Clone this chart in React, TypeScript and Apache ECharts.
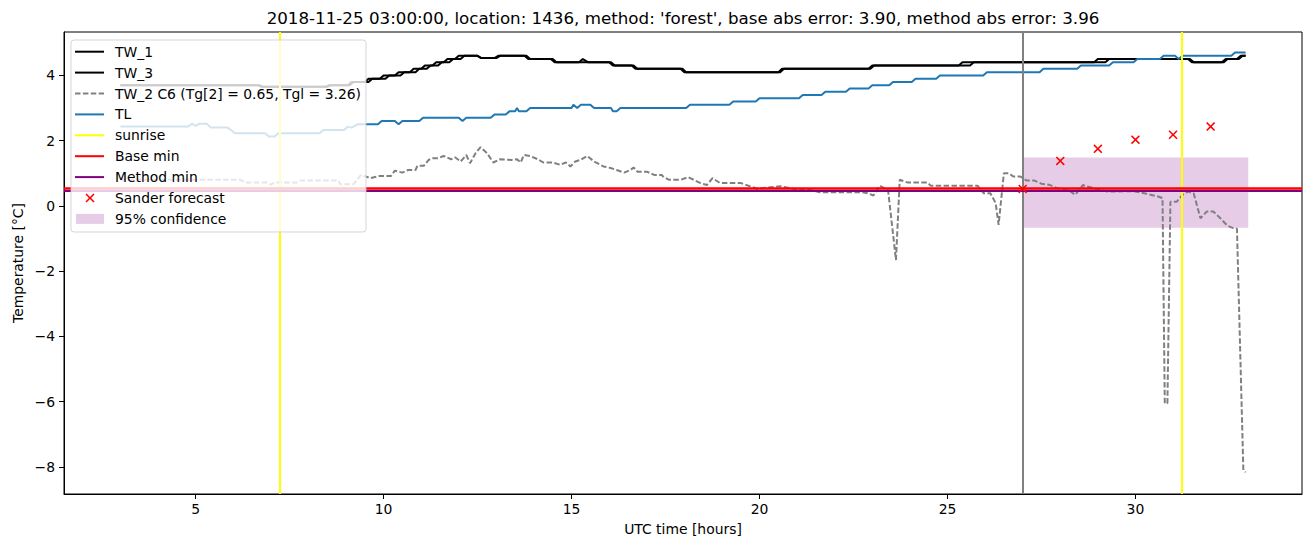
import React, { useEffect, useRef } from "react";
import * as echarts from "echarts";

const TITLE =
  "2018-11-25 03:00:00, location: 1436, method: 'forest', base abs error: 3.90, method abs error: 3.96";
const X_LABEL = "UTC time [hours]";
const Y_LABEL = "Temperature [°C]";
const X_TICKS = [5, 10, 15, 20, 25, 30];
const Y_TICKS = [-8, -6, -4, -2, 0, 2, 4];

const TW_1: number[][] = [
  [3.0, 3.7], [6.65, 3.7], [6.75, 3.65], [8.45, 3.65], [8.55, 3.7], [9.05, 3.7], [9.15, 3.8], [9.5, 3.8],
  [9.6, 3.9], [9.9, 3.9], [10.0, 4.0], [10.3, 4.0], [10.4, 4.1], [10.7, 4.1], [10.8, 4.2], [11.0, 4.2],
  [11.1, 4.3], [11.3, 4.3], [11.4, 4.4], [11.6, 4.4], [11.7, 4.5], [11.9, 4.5], [12.0, 4.6], [12.5, 4.6],
  [12.6, 4.53], [12.95, 4.53], [13.05, 4.6], [13.75, 4.6], [13.85, 4.5], [14.5, 4.5], [14.6, 4.4], [15.2, 4.4],
  [15.3, 4.5], [15.45, 4.4], [16.0, 4.4], [16.1, 4.3], [16.6, 4.3], [16.7, 4.2], [17.9, 4.2], [18.0, 4.1],
  [20.5, 4.1], [20.6, 4.2], [22.9, 4.2], [23.0, 4.3], [25.3, 4.3], [25.4, 4.4], [28.9, 4.4], [29.0, 4.5],
  [31.4, 4.5], [31.5, 4.4], [32.3, 4.4], [32.4, 4.5], [32.7, 4.5], [32.8, 4.6], [32.93, 4.6],
];

const TW_3: number[][] = [
  [3.0, 3.7], [6.7, 3.7], [6.8, 3.65], [8.5, 3.65], [8.6, 3.7], [9.1, 3.7], [9.2, 3.8], [9.6, 3.8],
  [9.7, 3.9], [10.05, 3.9], [10.15, 4.0], [10.45, 4.0], [10.55, 4.1], [10.85, 4.1], [10.95, 4.2], [11.15, 4.2],
  [11.25, 4.3], [11.45, 4.3], [11.55, 4.4], [11.75, 4.4], [11.85, 4.5], [12.05, 4.5], [12.15, 4.6], [12.5, 4.6],
  [12.6, 4.53], [13.0, 4.53], [13.1, 4.6], [13.8, 4.6], [13.9, 4.5], [14.45, 4.5], [14.55, 4.4], [16.05, 4.4],
  [16.15, 4.3], [16.65, 4.3], [16.75, 4.2], [17.95, 4.2], [18.05, 4.1], [20.55, 4.1], [20.65, 4.2], [22.95, 4.2],
  [23.05, 4.3], [25.6, 4.3], [25.7, 4.4], [29.2, 4.4], [29.3, 4.5], [31.45, 4.5], [31.55, 4.4], [32.35, 4.4],
  [32.45, 4.5], [32.75, 4.5], [32.85, 4.6], [32.93, 4.6],
];

const TW_2: number[][] = [
  [3.0, 0.8], [4.0, 0.8], [5.0, 0.8], [6.2, 0.8], [6.3, 0.72], [6.9, 0.72], [7.0, 0.65], [7.1, 0.72],
  [7.7, 0.72], [7.8, 0.78], [8.8, 0.78], [8.85, 0.66], [9.2, 0.66], [9.4, 0.95], [9.65, 0.85], [9.9, 0.92],
  [10.2, 0.92], [10.3, 1.08], [10.5, 1.02], [10.65, 1.1], [10.85, 1.1], [10.9, 1.23], [11.07, 1.23], [11.2, 1.41],
  [11.3, 1.46], [11.45, 1.46], [11.6, 1.53], [11.8, 1.43], [11.9, 1.49], [12.05, 1.36], [12.2, 1.56], [12.3, 1.31],
  [12.45, 1.62], [12.58, 1.8], [12.75, 1.62], [12.92, 1.33], [13.1, 1.43], [13.4, 1.41], [13.55, 1.43], [13.65, 1.33],
  [13.73, 1.56], [13.9, 1.53], [14.1, 1.43], [14.25, 1.33], [14.5, 1.33], [14.7, 1.26], [14.85, 1.33], [14.97, 1.21],
  [15.1, 1.36], [15.24, 1.41], [15.42, 1.53], [15.6, 1.36], [15.85, 1.21], [16.04, 1.16], [16.2, 1.1], [16.4, 1.02],
  [16.57, 1.1], [16.65, 1.18], [16.75, 1.05], [17.0, 1.05], [17.2, 0.95], [17.4, 0.95], [17.45, 0.88], [17.6, 0.8],
  [17.9, 0.8], [18.1, 0.88], [18.25, 0.8], [18.43, 0.7], [18.6, 0.64], [18.75, 0.85], [18.95, 0.7], [19.5, 0.7],
  [19.95, 0.52], [20.1, 0.55], [20.55, 0.6], [21.0, 0.5], [21.3, 0.5], [21.6, 0.42], [22.1, 0.42], [22.75, 0.42],
  [22.9, 0.38], [23.03, 0.32], [23.2, 0.62], [23.42, 0.48], [23.63, -1.66], [23.73, 0.8], [23.93, 0.72], [24.47, 0.72],
  [24.55, 0.62], [25.8, 0.62], [25.96, 0.39], [26.14, 0.39], [26.28, 0.09], [26.36, -0.58], [26.5, 1.0], [26.63, 1.0],
  [26.75, 0.9], [26.94, 0.9], [27.1, 0.78], [27.3, 0.78], [27.5, 0.68], [27.7, 0.65], [27.9, 0.55], [28.2, 0.5],
  [28.4, 0.34], [28.6, 0.64], [28.7, 0.6], [29.25, 0.44], [29.95, 0.45], [30.3, 0.37], [30.6, 0.29], [30.72, 0.24],
  [30.78, -6.05], [30.85, -6.05], [30.93, 0.13], [31.1, 0.13], [31.25, 0.34], [31.4, 0.44], [31.55, 0.38], [31.73, -0.38],
  [31.9, -0.17], [32.07, -0.17], [32.26, -0.38], [32.45, -0.61], [32.6, -0.68], [32.7, -0.7], [32.87, -8.1], [32.93, -8.16],
];

const TL: number[][] = [
  [3.0, 2.43], [4.8, 2.43], [4.9, 2.52], [5.0, 2.45], [5.1, 2.52], [5.3, 2.52], [5.4, 2.4], [5.85, 2.4],
  [6.05, 2.23], [6.85, 2.23], [6.95, 2.13], [7.1, 2.13], [7.2, 2.23], [8.3, 2.23], [8.4, 2.33], [8.95, 2.33],
  [9.05, 2.43], [9.15, 2.4], [9.3, 2.5], [9.85, 2.5], [9.95, 2.6], [10.3, 2.6], [10.4, 2.5], [10.5, 2.6],
  [10.95, 2.6], [11.05, 2.7], [12.0, 2.7], [12.1, 2.6], [12.2, 2.7], [12.85, 2.7], [12.95, 2.8], [13.25, 2.8],
  [13.35, 2.9], [13.5, 2.9], [13.55, 3.0], [13.6, 2.9], [13.8, 2.9], [13.9, 3.0], [15.0, 3.0], [15.05, 3.1],
  [15.15, 3.0], [15.25, 3.1], [15.5, 3.1], [15.6, 3.0], [16.05, 3.0], [16.1, 2.9], [16.2, 2.9], [16.3, 3.0],
  [18.05, 3.0], [18.15, 3.1], [19.2, 3.1], [19.3, 3.2], [19.9, 3.2], [20.0, 3.3], [21.05, 3.3], [21.15, 3.4],
  [21.65, 3.4], [21.75, 3.5], [22.3, 3.5], [22.4, 3.6], [22.9, 3.6], [23.0, 3.7], [23.45, 3.7], [23.55, 3.8],
  [24.05, 3.8], [24.15, 3.9], [24.7, 3.9], [24.8, 4.0], [25.95, 4.0], [26.05, 4.1], [27.45, 4.1], [27.55, 4.2],
  [28.45, 4.2], [28.55, 4.3], [29.3, 4.3], [29.4, 4.4], [29.95, 4.4], [30.05, 4.5], [30.65, 4.5], [30.75, 4.6],
  [31.05, 4.6], [31.15, 4.5], [31.25, 4.6], [32.55, 4.6], [32.65, 4.7], [32.93, 4.7],
];

const SUNRISE = [7.23, 31.23];
const NOW = [27];
const BASE_MIN = 0.53;
const METHOD_MIN = 0.46;
const SANDER_T = [27, 28, 29, 30, 31, 32];
const SANDER_V = [0.52, 1.38, 1.75, 2.03, 2.18, 2.43];
const CONF_X = [27, 33];
const CONF_Y = [-0.67, 1.48];

const LEGEND_LABELS = [
  "TW_1",
  "TW_3",
  "TW_2 C6 (Tg[2] = 0.65, Tgl = 3.26)",
  "TL",
  "sunrise",
  "Base min",
  "Method min",
  "Sander forecast",
  "95% confidence",
];

const FONT = "DejaVu Sans";
const X_PATH = "path://M0,1.2 L1.2,0 L5,3.8 L8.8,0 L10,1.2 L6.2,5 L10,8.8 L8.8,10 L5,6.2 L1.2,10 L0,8.8 L3.8,5 Z";
const fmt = (v: number) => String(v).replace("-", "\u2212");

export default function App() {
  const ref = useRef<HTMLDivElement>(null);
  useEffect(() => {
    if (!ref.current) return;
    const chart = echarts.init(ref.current, null, { renderer: "svg" });

    const legendStyles: any[] = [
      { kind: "line", color: "#000000" },
      { kind: "line", color: "#000000" },
      { kind: "line", color: "#808080", dash: [5.5, 2.4] },
      { kind: "line", color: "#1f77b4" },
      { kind: "line", color: "#ffff00" },
      { kind: "line", color: "#ff0000" },
      { kind: "line", color: "#800080" },
      { kind: "marker", color: "#ff0000" },
      { kind: "patch", color: "rgba(128,0,128,0.2)" },
    ];

    const legendEls: any[] = [
      {
        type: "rect",
        shape: { x: 71, y: 40, width: 295, height: 192, r: 3 },
        style: { fill: "rgba(255,255,255,0.8)", stroke: "rgba(204,204,204,0.8)", lineWidth: 1 },
        z: 100,
      },
    ];
    LEGEND_LABELS.forEach((lab, i) => {
      const cy = 51.7 + i * 20.9;
      const st = legendStyles[i];
      if (st.kind === "line") {
        legendEls.push({
          type: "line",
          shape: { x1: 75, y1: cy, x2: 104, y2: cy },
          style: { stroke: st.color, lineWidth: 2, lineDash: st.dash || null },
          z: 101,
        });
      } else if (st.kind === "marker") {
        legendEls.push({
          type: "polygon",
          shape: {
            points: [
              [0, 1.2], [1.2, 0], [5, 3.8], [8.8, 0], [10, 1.2], [6.2, 5], [10, 8.8], [8.8, 10], [5, 6.2], [1.2, 10], [0, 8.8], [3.8, 5],
            ].map(([a, b]) => [90 - 4.5 + a * 0.9, cy - 4.5 + b * 0.9]),
          },
          style: { fill: st.color },
          z: 101,
        });
      } else {
        legendEls.push({
          type: "rect",
          shape: { x: 76, y: cy - 5, width: 28, height: 10 },
          style: { fill: st.color },
          z: 101,
        });
      }
      legendEls.push({
        type: "text",
        x: 115,
        y: cy,
        style: { text: lab, fontSize: 13.9, fontFamily: FONT, fill: "#000", textVerticalAlign: "middle", textAlign: "left" },
        z: 101,
      });
    });

    const lineSeries = (name: string, data: number[][], color: string, dash?: number[]) => ({
      name,
      type: "line",
      data,
      showSymbol: false,
      symbol: "none",
      lineStyle: { color, width: 2, type: dash || "solid" },
      silent: true,
    });

    const option: any = {
      animation: false,
      backgroundColor: "#ffffff",
      grid: {
        left: 64,
        top: 32,
        right: 11,
        bottom: 53,
        show: true,
        borderColor: "#000",
        borderWidth: 1,
        backgroundColor: "transparent",
      },
      xAxis: {
        type: "value",
        min: 1.5,
        max: 34.43,
        splitLine: { show: false },
        axisLine: { show: true, onZero: false, lineStyle: { color: "#000", width: 1 } },
        axisTick: { show: true, customValues: X_TICKS, length: 5, lineStyle: { color: "#000" } },
        axisLabel: { customValues: X_TICKS, color: "#000", fontSize: 13.9, fontFamily: FONT, margin: 8, formatter: fmt },
      },
      yAxis: {
        type: "value",
        min: -8.83,
        max: 5.33,
        splitLine: { show: false },
        axisLine: { show: true, onZero: false, lineStyle: { color: "#000", width: 1 } },
        axisTick: { show: true, customValues: Y_TICKS, length: 5, lineStyle: { color: "#000" } },
        axisLabel: { customValues: Y_TICKS, color: "#000", fontSize: 13.9, fontFamily: FONT, margin: 9, formatter: fmt },
      },
      series: [
        {
          name: "95% confidence",
          type: "line",
          data: [],
          silent: true,
          markArea: {
            silent: true,
            itemStyle: { color: "rgba(128,0,128,0.2)" },
            data: [[{ xAxis: CONF_X[0], yAxis: CONF_Y[1] }, { xAxis: CONF_X[1], yAxis: CONF_Y[0] }]],
          },
        },
        {
          name: "now",
          type: "line",
          data: [],
          silent: true,
          markLine: {
            silent: true,
            symbol: ["none", "none"],
            label: { show: false },
            lineStyle: { color: "#808080", width: 2, type: "solid" },
            data: NOW.map((x) => ({ xAxis: x })),
          },
        },
        lineSeries("TW_1", TW_1, "#000000"),
        lineSeries("TW_3", TW_3, "#000000"),
        lineSeries("TW_2", TW_2, "#808080", [5.5, 2.4]),
        lineSeries("TL", TL, "#1f77b4"),
        {
          name: "sunrise",
          type: "line",
          data: [],
          silent: true,
          markLine: {
            silent: true,
            symbol: ["none", "none"],
            label: { show: false },
            lineStyle: { color: "#ffff00", width: 2, type: "solid" },
            data: SUNRISE.map((x) => ({ xAxis: x })),
          },
        },
        {
          name: "Base min",
          type: "line",
          data: [],
          silent: true,
          markLine: {
            silent: true,
            symbol: ["none", "none"],
            label: { show: false },
            lineStyle: { color: "#ff0000", width: 2.5, type: "solid" },
            data: [{ yAxis: BASE_MIN }],
          },
        },
        {
          name: "Method min",
          type: "line",
          data: [],
          silent: true,
          markLine: {
            silent: true,
            symbol: ["none", "none"],
            label: { show: false },
            lineStyle: { color: "#800080", width: 2, type: "solid" },
            data: [{ yAxis: METHOD_MIN }],
          },
        },
        {
          name: "Sander forecast",
          type: "scatter",
          data: SANDER_T.map((t, i) => [t, SANDER_V[i]]),
          symbol: X_PATH,
          symbolSize: 9,
          itemStyle: { color: "#ff0000", opacity: 1 },
          silent: true,
          z: 5,
        },
      ],
      graphic: [
        {
          type: "text",
          x: 683,
          y: 18,
          style: { text: TITLE, fontSize: 16.7, fontFamily: FONT, fill: "#000", textAlign: "center", textVerticalAlign: "middle" },
          z: 100,
        },
        {
          type: "text",
          x: 683,
          y: 529,
          style: { text: X_LABEL, fontSize: 13.9, fontFamily: FONT, fill: "#000", textAlign: "center", textVerticalAlign: "middle" },
          z: 100,
        },
        {
          type: "text",
          x: 18,
          y: 263,
          rotation: Math.PI / 2,
          style: { text: Y_LABEL, fontSize: 13.9, fontFamily: FONT, fill: "#000", textAlign: "center", textVerticalAlign: "middle" },
          z: 100,
        },
        ...legendEls,
      ],
    };
    chart.setOption(option);
    return () => chart.dispose();
  }, []);

  return (
    <div
      ref={ref}
      style={{ position: "fixed", left: 0, top: 0, width: 1313, height: 547, background: "#fff" }}
    />
  );
}
